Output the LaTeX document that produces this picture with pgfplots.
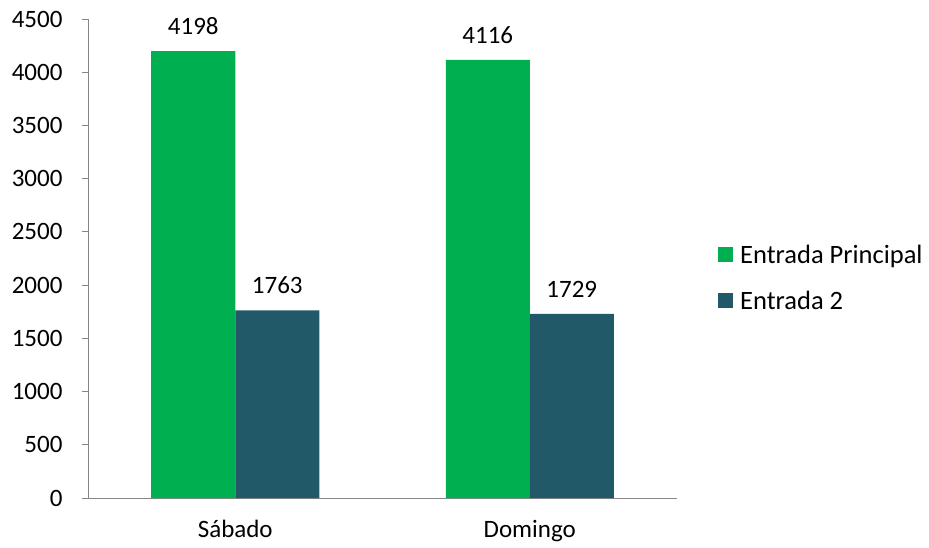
\documentclass[border=0pt]{standalone}
\usepackage{pgfplots}
\pgfplotsset{compat=1.18}
\usepackage{fontspec}
\setmainfont{Carlito}
\definecolor{cgreen}{HTML}{00B050}
\definecolor{cteal}{HTML}{215968}
\definecolor{axgray}{HTML}{868686}
\begin{document}
\begin{tikzpicture}[x=1pt,y=1pt,font=\fontsize{25}{30}\selectfont]
\useasboundingbox (-88,-49) rectangle (841,498);
\begin{axis}[
  at={(0,0)}, anchor=south west,
  scale only axis, width=589pt, height=479pt,
  ybar=0pt, bar width=84pt,
  xmin=-0.5, xmax=1.5, ymin=0, ymax=4500,
  ytick={0,500,...,4500},
  xtick={0,1}, xticklabels={Sábado,Domingo},
  major x tick style={draw=none},
  extra x ticks={-0.5,0.5,1.5}, extra x tick labels={},
  extra x tick style={tick style={draw=axgray, thick}, major tick length=7pt},
  axis x line=bottom, axis y line=left,
  axis line style={-, draw=axgray, thick},
  y tick style={draw=axgray, thick},
  tick align=outside, major tick length=6pt,
  tick label style={font=\fontsize{25}{30}\selectfont},
  xticklabel style={yshift=-13pt},
  yticklabel style={xshift=-16pt},
  /pgf/number format/assume math mode=true,
  /pgf/number format/1000 sep={},
  nodes near coords, nodes near coords style={yshift=13pt, font=\fontsize{25}{30}\selectfont},
  every node near coord/.append style={/pgf/number format/1000 sep={}},
  legend style={at={(1.0696,0.46)}, anchor=west, draw=none, row sep=22pt, inner sep=0pt,
    font=\fontsize{26.5}{30}\selectfont,
    /tikz/every even column/.append style={column sep=0pt}},
  legend cell align=left,
  legend image code/.code={\fill[#1] (0pt,-7.5pt) rectangle (15pt,7.5pt); \path (20pt,0pt);},
  clip=false,
]
\addplot[fill=cgreen, draw=none] coordinates {(0,4198) (1,4116)};
\addplot[fill=cteal, draw=none] coordinates {(0,1763) (1,1729)};
\legend{Entrada Principal, Entrada 2}
\end{axis}
\end{tikzpicture}
\end{document}
